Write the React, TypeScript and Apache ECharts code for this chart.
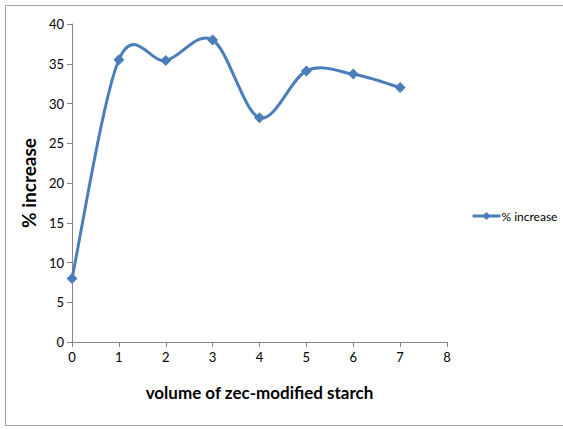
import React, { useEffect, useRef } from "react";
import * as echarts from "echarts";

const xValues = [0, 1, 2, 3, 4, 5, 6, 7];
const increaseValues = [8, 35.5, 35.4, 38, 28.2, 34.1, 33.7, 32];
const seriesName = "% increase";
const xTitle = "volume of zec-modified starch";
const yTitle = "% increase";

const FONT = "Lato, 'Open Sans', sans-serif";
const COLOR = "#4a7ebb";

export default function App() {
  const ref = useRef<HTMLDivElement>(null);
  useEffect(() => {
    if (!ref.current) return;
    const chart = echarts.init(ref.current, null, { renderer: "svg" });
    const pts = xValues.map((x, i) => [x, increaseValues[i]]);
    chart.setOption({
      animation: false,
      backgroundColor: "#ffffff",
      grid: { left: 72, top: 24, width: 375, height: 318, containLabel: false },
      graphic: [
        {
          type: "rect",
          shape: { x: 5.5, y: 5.5, width: 600, height: 420 },
          style: { fill: "none", stroke: "#a0a0a0", lineWidth: 1 },
          silent: true,
        },
      ],
      legend: {
        left: 466,
        top: 205,
        orient: "vertical",
        itemWidth: 28,
        itemHeight: 10,
        itemGap: 2,
        data: [seriesName],
        lineStyle: { opacity: 1, width: 3, color: COLOR },
        textStyle: { fontFamily: FONT, fontSize: 12, color: "#000", padding: [0, 0, 0, -4] },
      },
      xAxis: {
        type: "value",
        min: 0,
        max: 8,
        interval: 1,
        name: xTitle,
        nameLocation: "middle",
        nameGap: 42,
        nameTextStyle: { fontFamily: FONT, fontSize: 17, fontWeight: "bold", color: "#000" },
        axisLine: { show: true, lineStyle: { color: "#868686" } },
        axisTick: { show: true, length: 5, lineStyle: { color: "#868686" } },
        axisLabel: { fontFamily: FONT, fontSize: 13, color: "#000", margin: 8 },
        splitLine: { show: false },
      },
      yAxis: {
        type: "value",
        min: 0,
        max: 40,
        interval: 5,
        name: yTitle,
        nameLocation: "middle",
        nameGap: 30,
        nameRotate: 90,
        nameTextStyle: { fontFamily: FONT, fontSize: 19, fontWeight: "bold", color: "#000" },
        axisLine: { show: true, lineStyle: { color: "#868686" } },
        axisTick: { show: true, length: 5, lineStyle: { color: "#868686" } },
        axisLabel: { fontFamily: FONT, fontSize: 13, color: "#000", margin: 8 },
        splitLine: { show: false },
      },
      series: [
        {
          name: "curve",
          type: "custom",
          z: 1,
          silent: true,
          data: pts,
          renderItem: (params: any, api: any) => {
            const i = params.dataIndex;
            const n = pts.length;
            if (i >= n - 1) return null;
            const c = (k: number) => {
              const j = Math.max(0, Math.min(n - 1, k));
              return api.coord(pts[j]);
            };
            const p0 = c(i - 1), p1 = c(i), p2 = c(i + 1), p3 = c(i + 2);
            const t = 1 / 6;
            const cp1 = [p1[0] + (p2[0] - p0[0]) * t, p1[1] + (p2[1] - p0[1]) * t];
            const cp2 = [p2[0] - (p3[0] - p1[0]) * t, p2[1] - (p3[1] - p1[1]) * t];
            return {
              type: "bezierCurve",
              shape: { x1: p1[0], y1: p1[1], x2: p2[0], y2: p2[1], cpx1: cp1[0], cpy1: cp1[1], cpx2: cp2[0], cpy2: cp2[1] },
              style: { stroke: COLOR, lineWidth: 3, fill: "none" },
            };
          },
        },
        {
          name: seriesName,
          type: "line",
          z: 3,
          data: pts,
          symbol: "diamond",
          symbolSize: 11,
          lineStyle: { color: COLOR, width: 3, opacity: 0 },
          itemStyle: { color: COLOR },
        },
      ],
    });
    return () => chart.dispose();
  }, []);
  return (
    <div
      ref={ref}
      style={{ position: "absolute", left: 0, top: 0, width: 563, height: 429 }}
    />
  );
}
